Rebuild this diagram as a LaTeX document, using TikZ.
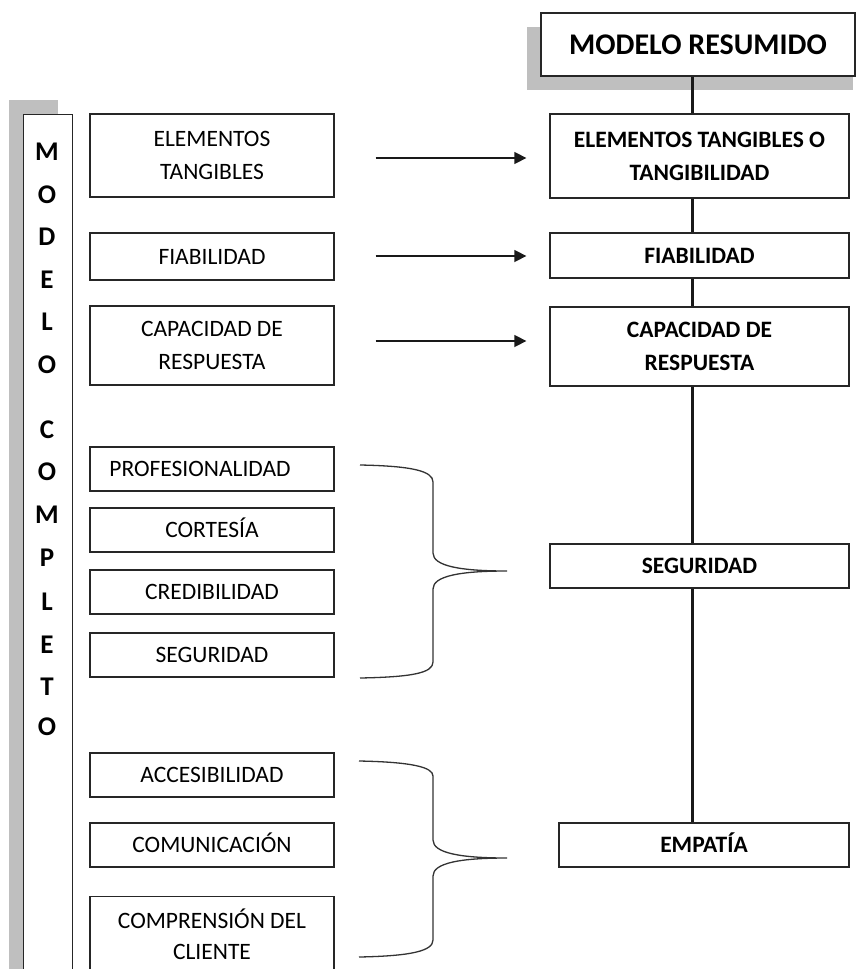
\documentclass[tikz,border=0pt]{standalone}
\usepackage{fontspec}
\setmainfont{Carlito}
\usetikzlibrary{arrows.meta}
\begin{document}
\begin{tikzpicture}[x=1pt,y=-1pt,
  box/.style={draw=black!85, line width=1.3pt, fill=white, inner sep=0pt,
    align=center, text height=15.1pt, text depth=0pt,
    font=\fontsize{23.5}{33}\selectfont},
  twolines/.style={text height=48.1pt, text depth=0pt},
  leftbox/.style={box, minimum width=244pt},
  sumbox/.style={box, minimum width=299pt, font=\bfseries\fontsize{23.5}{33}\selectfont},
  shade/.style={fill=black!25, draw=none},
  spine/.style={line width=3pt, black!90},
  link/.style={line width=1.5pt, black!90, -{Triangle[length=12pt,width=12pt]}},
  brace/.style={line width=1.3pt, black!80},
  vletter/.style={inner sep=0pt, text height=17.4pt, text depth=0pt,
    font=\bfseries\fontsize{27}{27}\selectfont}
]
\useasboundingbox (0,0) rectangle (856,969);
\clip (0,0) rectangle (856,969);

% drop shadows
\fill[shade] (527,27) rectangle (853,90);
\fill[shade] (9,100) rectangle (58,990);

% vertical title column
\node[box, minimum width=49pt, minimum height=880pt, anchor=north west] (col) at (23,114) {};
\foreach \c/\y [count=\i] in {M/152,O/195,D/237,E/280,L/322,O/365,
    C/430,O/472,M/515,P/558,L/602,E/645,T/687,O/727}
  \node[vletter] (v\i) at (47,\y) {\c};

% header
\node[box, minimum width=314pt, minimum height=63pt, text height=19.3pt,
  font=\bfseries\fontsize{30}{30}\selectfont] (hdr) at (698,44.5) {MODELO RESUMIDO};

% complete model
\node[leftbox, twolines, minimum height=83pt] (lt1) at (212,155.5) {ELEMENTOS\\TANGIBLES};
\node[leftbox, minimum height=47pt] (lt2) at (212,256.5) {FIABILIDAD};
\node[leftbox, twolines, minimum height=79pt] (lt3) at (212,345.5) {CAPACIDAD DE\\RESPUESTA};
\node[leftbox, minimum height=44pt] (lt4) at (212,469) {PROFESIONALIDAD\hspace*{24pt}};
\node[leftbox, minimum height=44pt] (lt5) at (212,530) {CORTESÍA};
\node[leftbox, minimum height=44pt] (lt6) at (212,592) {CREDIBILIDAD};
\node[leftbox, minimum height=44pt] (lt7) at (212,655) {SEGURIDAD};
\node[leftbox, minimum height=44pt] (lt8) at (212,775) {ACCESIBILIDAD};
\node[leftbox, minimum height=44pt] (lt9) at (212,845) {COMUNICACIÓN};
\node[leftbox, minimum height=94pt, anchor=north] (lt10) at (212,896) {};
\node[inner sep=0pt, align=center, text height=46.1pt, text depth=0pt,
  font=\fontsize{23.5}{31}\selectfont] (lt10t) at (212,936.5) {COMPRENSIÓN DEL\\CLIENTE};

% summary model
\node[sumbox, twolines, minimum height=84pt] (rt1) at (699.5,156) {ELEMENTOS TANGIBLES O\\TANGIBILIDAD};
\node[sumbox, minimum height=45pt] (rt2) at (699.5,255.5) {FIABILIDAD};
\node[sumbox, twolines, minimum height=79pt] (rt3) at (699.5,346.5) {CAPACIDAD DE\\RESPUESTA};
\node[sumbox, minimum height=44pt] (rt4) at (699.5,566) {SEGURIDAD};
\node[sumbox, minimum width=290pt, minimum height=44pt] (rt5) at (704,845) {EMPATÍA};

% spine joining the summary boxes
\coordinate (sx) at (692,0);
\draw[spine] (hdr.south -| sx) -- (rt1.north -| sx);
\draw[spine] (rt1.south -| sx) -- (rt2.north -| sx);
\draw[spine] (rt2.south -| sx) -- (rt3.north -| sx);
\draw[spine] (rt3.south -| sx) -- (rt4.north -| sx);
\draw[spine] (rt4.south -| sx) -- (rt5.north -| sx);

% one-to-one correspondences
\draw[link] ([xshift=41pt,yshift=-2.5pt]lt1.east) -- ([xshift=-23pt,yshift=-2pt]rt1.west);
\draw[link] ([xshift=41pt,yshift=0.5pt]lt2.east) -- ([xshift=-23pt,yshift=-0.5pt]rt2.west);
\draw[link] ([xshift=41pt,yshift=4.5pt]lt3.east) -- ([xshift=-23pt,yshift=5.5pt]rt3.west);

% grouping braces
\draw[brace] (360,465) .. controls (412,466) and (433,471) .. (433,482)
  -- (433,553) .. controls (433,566) and (460,571) .. (507,571)
  .. controls (460,571) and (433,576) .. (433,589)
  -- (433,662) .. controls (433,673) and (412,677) .. (360,678);
\draw[brace] (359,761) .. controls (411,762) and (433,767) .. (433,776)
  -- (433,840) .. controls (433,853) and (460,858) .. (507,858)
  .. controls (460,858) and (433,863) .. (433,876)
  -- (433,940) .. controls (433,951) and (411,956) .. (359,957);
\end{tikzpicture}
\end{document}
